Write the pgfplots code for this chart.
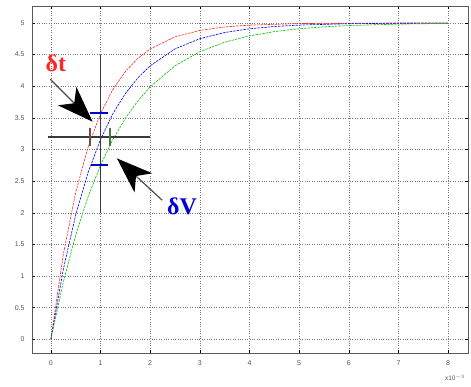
\documentclass[border=0pt]{standalone}
\usepackage{fontspec}
\setmainfont{Liberation Sans}
\newfontfamily\serifb{Liberation Serif}
\usepackage{pgfplots}
\pgfplotsset{compat=1.18}
\usetikzlibrary{arrows.meta}
\definecolor{tickgray}{HTML}{555555}
\definecolor{gridgray}{HTML}{777777}
\definecolor{crossgray}{HTML}{3A3A3A}
\begin{document}
\begin{tikzpicture}
\useasboundingbox (-32bp,-34bp) rectangle (439bp,353bp);
\begin{axis}[
  at={(0,0)}, anchor=south west,
  scale only axis, width=436bp, height=346.5bp,
  xmin=-0.38, xmax=8.4, ymin=-0.215, ymax=5.26,
  xtick={0,1,...,8}, ytick={0,0.5,...,5},
  grid=major,
  major grid style={gridgray, dotted, line width=0.6pt},
  axis line style={gray!70!black, line width=0.8pt},
  tick style={black, line width=0.6pt},
  tick align=inside, major tick length=3bp,
  ticklabel style={font=\fontsize{7}{8}\selectfont, text=tickgray},
  /pgf/number format/assume math mode=true,
  yticklabel style={xshift=-4bp},
  xticklabel style={yshift=-4bp},
  clip=false,
]
\addplot[red!85!white, line width=0.6pt, dash pattern=on 2.5pt off 1pt] coordinates {
(0,0) (0.25,1.342) (0.5,2.324) (0.75,3.042) (1,3.567) (1.25,3.952) (1.5,4.233) (1.75,4.439) (2,4.590) (2.5,4.780) (3,4.882) (3.5,4.937) (4,4.966) (5,4.990) (6,4.997) (7,4.999) (8,5.0)};
\addplot[blue, line width=0.6pt, dash pattern=on 2.5pt off 1pt] coordinates {
(0,0) (0.25,1.106) (0.5,1.967) (0.75,2.638) (1,3.161) (1.25,3.567) (1.5,3.884) (1.75,4.131) (2,4.323) (2.5,4.590) (3,4.751) (3.5,4.849) (4,4.908) (4.5,4.944) (5,4.966) (6,4.988) (7,4.995) (8,4.998)};
\addplot[green!75!black, line width=0.6pt, dash pattern=on 2.5pt off 1pt] coordinates {
(0,0) (0.25,0.906) (0.5,1.648) (0.75,2.256) (1,2.753) (1.25,3.161) (1.5,3.494) (1.75,3.767) (2,3.991) (2.5,4.323) (3,4.546) (3.5,4.696) (4,4.796) (4.5,4.863) (5,4.908) (5.5,4.939) (6,4.959) (7,4.982) (8,4.992)};
% crosshair
\draw[crossgray, line width=1.6pt] (axis cs:1,2.0) -- (axis cs:1,4.5);
\draw[crossgray, line width=1.6pt] (axis cs:-0.05,3.2) -- (axis cs:2.0,3.2);
\draw[black!60!red!40!gray, line width=2.4pt] (axis cs:0.79,3.05) -- (axis cs:0.79,3.34);
\draw[black!60!green!40!gray, line width=2.4pt] (axis cs:1.19,3.05) -- (axis cs:1.19,3.34);
\draw[blue!80!black, line width=2pt] (axis cs:0.78,3.57) -- (axis cs:1.16,3.57);
\draw[blue!80!black, line width=2pt] (axis cs:0.8,2.76) -- (axis cs:1.16,2.76);
% arrows
\draw[black!70, line width=1.2pt, -{Stealth[length=36bp,width=26bp,inset=10bp,color=black]}] (axis cs:-0.01,4.11) -- (axis cs:0.84,3.44);
\draw[black!70, line width=1.2pt, -{Stealth[length=36bp,width=26bp,inset=10bp,color=black]}] (axis cs:2.24,2.2) -- (axis cs:1.33,2.86);
\node[text=red!85!white, font=\serifb\bfseries\fontsize{24}{25}\selectfont] at (axis cs:0.1,4.36) {δt};
\node[text=blue!85!black, font=\serifb\bfseries\fontsize{24}{25}\selectfont] at (axis cs:2.64,2.1) {δV};
\end{axis}
\node[font=\fontsize{6.5}{7}\selectfont, text=tickgray] at (423bp,-25bp) {x10$^{-3}$};
\end{tikzpicture}
\end{document}
